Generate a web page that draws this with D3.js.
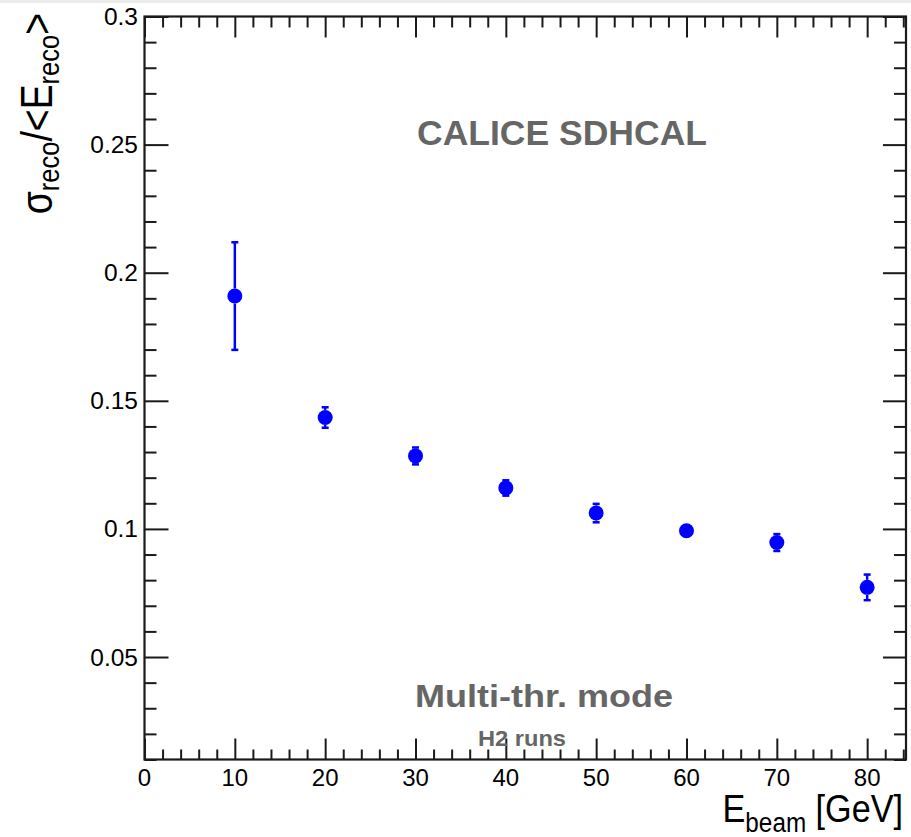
<!DOCTYPE html>
<html>
<head>
<meta charset="utf-8">
<script src="https://cdn.jsdelivr.net/npm/d3@7"></script>
<style>
  body { margin: 0; background: #fff; }
  svg { display: block; font-family: "Liberation Sans", Arial, Helvetica, sans-serif; }
</style>
</head>
<body>
<div id="chart"></div>
<script>
var energies   = [10, 20, 30, 40, 50, 60, 70, 80];
var resolution = [0.1909, 0.1435, 0.1285, 0.1160, 0.1062, 0.0993, 0.0947, 0.0772];
var errors     = [0.0210, 0.0040, 0.0033, 0.0030, 0.0036, 0.0015, 0.0033, 0.0050];

var xTicks = [0, 10, 20, 30, 40, 50, 60, 70, 80];
var yTicks = [0.05, 0.1, 0.15, 0.2, 0.25, 0.3];
var yTickLabels = ['0.05', '0.1', '0.15', '0.2', '0.25', '0.3'];

var width  = 911;
var height = 837;
// frame edges (note: "top" is taken by window.top)
var fLeft = 144.5, fRight = 906, fTop = 16.5, fBottom = 759.5;

var svg = d3.select('#chart').append('svg')
	.attr('width', width)
	.attr('height', height);

// faint strip along the top edge of the picture
svg.append('rect').attr('x', 0).attr('y', 0).attr('width', width).attr('height', 3).attr('fill', '#ececec');

var x = d3.scaleLinear().domain([0, 84.3]).range([fLeft, fRight]);
var y = d3.scaleLinear().domain([0.01, 0.3]).range([fBottom, fTop]);

var ink = '#1a1a1a';

// minor ticks: every 2 GeV on x, every 0.01 on y
var xMinor = d3.range(0, 85, 2).filter(function(d) { return d % 10 !== 0; });
var yMinor = d3.range(1, 30).map(function(d) { return d / 100; })
	.filter(function(d) { return Math.round(d * 100) % 5 !== 0; });

var ticks = svg.append('g').attr('class', 'ticks');
// bottom: ticks pointing up into the frame
ticks.append('g').attr('transform', 'translate(0,' + fBottom + ')')
	.call(d3.axisTop(x).tickValues(xTicks).tickSize(21).tickFormat(''));
ticks.append('g').attr('transform', 'translate(0,' + fBottom + ')')
	.call(d3.axisTop(x).tickValues(xMinor).tickSize(10).tickFormat(''));
// top: ticks pointing down
ticks.append('g').attr('transform', 'translate(0,' + fTop + ')')
	.call(d3.axisBottom(x).tickValues(xTicks).tickSize(21).tickFormat(''));
ticks.append('g').attr('transform', 'translate(0,' + fTop + ')')
	.call(d3.axisBottom(x).tickValues(xMinor).tickSize(11).tickFormat(''));
// left: ticks pointing right
ticks.append('g').attr('transform', 'translate(' + fLeft + ',0)')
	.call(d3.axisRight(y).tickValues(yTicks).tickSize(24).tickFormat(''));
ticks.append('g').attr('transform', 'translate(' + fLeft + ',0)')
	.call(d3.axisRight(y).tickValues(yMinor).tickSize(12).tickFormat(''));
// right: ticks pointing left
ticks.append('g').attr('transform', 'translate(' + fRight + ',0)')
	.call(d3.axisLeft(y).tickValues(yTicks).tickSize(23).tickFormat(''));
ticks.append('g').attr('transform', 'translate(' + fRight + ',0)')
	.call(d3.axisLeft(y).tickValues(yMinor).tickSize(12).tickFormat(''));

ticks.selectAll('.domain').remove();
ticks.selectAll('line').attr('stroke', ink).attr('stroke-width', 2);

// frame
svg.append('rect')
	.attr('x', fLeft).attr('y', fTop)
	.attr('width', fRight - fLeft).attr('height', fBottom - fTop)
	.attr('fill', 'none').attr('stroke', ink).attr('stroke-width', 2.2);

// tick labels
svg.append('g').selectAll('text').data(xTicks).enter().append('text')
	.attr('x', function(d) { return x(d); })
	.attr('y', 786)
	.attr('text-anchor', 'middle')
	.attr('font-size', 24)
	.attr('fill', '#000')
	.text(function(d) { return d; });

svg.append('g').selectAll('text').data(yTicks).enter().append('text')
	.attr('x', 138)
	.attr('y', function(d) { return y(d) + 8.5; })
	.attr('text-anchor', 'end')
	.attr('font-size', 24.5)
	.attr('fill', '#000')
	.text(function(d, i) { return yTickLabels[i]; });

// axis titles
var xt = svg.append('text')
	.attr('transform', 'translate(903,822) scale(0.9,1)')
	.attr('text-anchor', 'end')
	.attr('font-size', 38)
	.attr('fill', '#000');
xt.append('tspan').text('E');
xt.append('tspan').attr('font-size', 27).attr('dy', 10).text('beam');
xt.append('tspan').attr('dy', -10).text(' [GeV]');

var yt = svg.append('text')
	.attr('transform', 'translate(52,13) rotate(-90) scale(0.85,1)')
	.attr('text-anchor', 'end')
	.attr('font-size', 44)
	.attr('fill', '#000');
yt.append('tspan').text('σ');
yt.append('tspan').attr('font-size', 30).attr('dy', 7).text('reco');
yt.append('tspan').attr('dy', -7).text('/<E');
yt.append('tspan').attr('font-size', 30).attr('dy', 7).text('reco');
yt.append('tspan').attr('dy', -7).text('>');

// annotations
var grey = '#666666';
svg.append('text').attr('x', 417).attr('y', 145)
	.attr('font-size', 35).attr('font-weight', 'bold').attr('fill', grey)
	.attr('textLength', 290).attr('lengthAdjust', 'spacingAndGlyphs')
	.text('CALICE SDHCAL');
svg.append('text').attr('x', 415).attr('y', 707)
	.attr('font-size', 31).attr('font-weight', 'bold').attr('fill', grey)
	.attr('textLength', 258).attr('lengthAdjust', 'spacingAndGlyphs')
	.text('Multi-thr. mode');
svg.append('text').attr('x', 478).attr('y', 746)
	.attr('font-size', 22).attr('font-weight', 'bold').attr('fill', grey)
	.attr('textLength', 88).attr('lengthAdjust', 'spacingAndGlyphs')
	.text('H2 runs');

// data points with error bars (bars drawn outside the marker only)
var blue = '#0000ff';
var r = 7.5;
var pts = energies.map(function(e, i) { return {e: e, v: resolution[i], err: errors[i]}; });

var g = svg.append('g');
pts.forEach(function(p) {
	var cx = x(p.e), cy = y(p.v);
	var yHi = y(p.v + p.err), yLo = y(p.v - p.err);
	if (cy - yHi > r) {
		g.append('line').attr('x1', cx).attr('x2', cx).attr('y1', yHi).attr('y2', cy - r)
			.attr('stroke', blue).attr('stroke-width', 2.5);
		g.append('line').attr('x1', cx).attr('x2', cx).attr('y1', cy + r).attr('y2', yLo)
			.attr('stroke', blue).attr('stroke-width', 2.5);
		g.append('rect').attr('x', cx - 3.5).attr('y', yHi - 1.2).attr('width', 7).attr('height', 2.5).attr('fill', blue);
		g.append('rect').attr('x', cx - 3.5).attr('y', yLo - 1.2).attr('width', 7).attr('height', 2.5).attr('fill', blue);
	}
});
g.selectAll('circle').data(pts).enter().append('circle')
	.attr('cx', function(d) { return x(d.e); })
	.attr('cy', function(d) { return y(d.v); })
	.attr('r', r)
	.attr('fill', blue);
</script>
</body>
</html>
